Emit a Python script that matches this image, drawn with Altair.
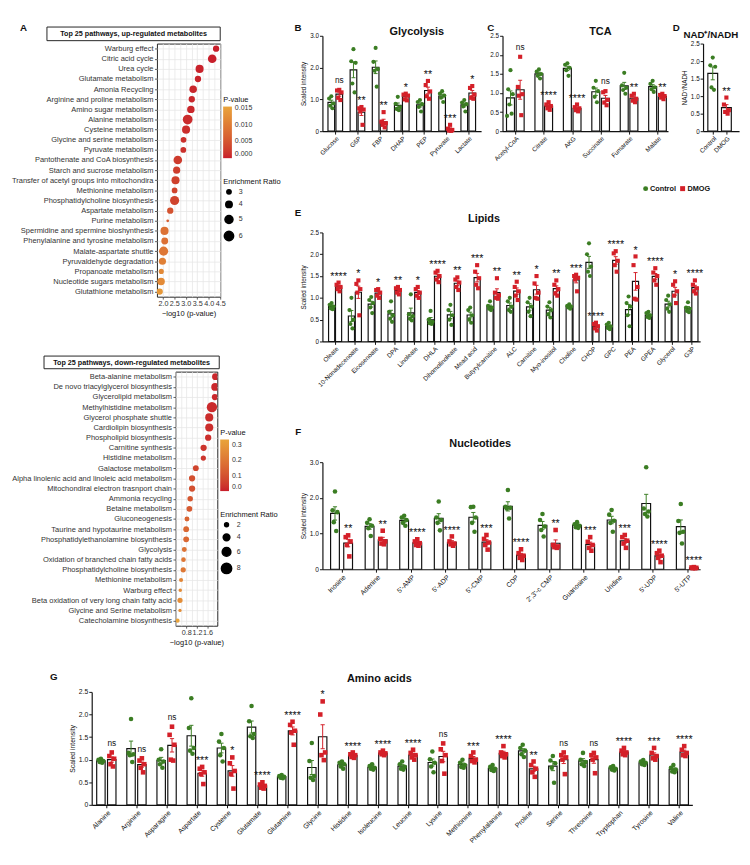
import json
import altair as alt
import pandas as pd

FONT = "Liberation Sans"
GREEN = "#3B7D23"
RED = "#D42029"
GROUPS = ["Control", "DMOG"]
P_LOW = "#C81E2B"
P_HIGH = "#E9A43B"
ONE = pd.DataFrame({"z": [0]})

# ---------------- A: enrichment of up-regulated metabolites ----------------
up_pathways = ["Warburg effect", "Citric acid cycle", "Urea cycle", "Glutamate metabolism",
               "Amonia Recycling", "Arginine and proline metabolism", "Amino sugar metabolism",
               "Alanine metabolism", "Cysteine metabolism", "Glycine and serine metabolism",
               "Pyruvate metabolism", "Pantothenate and CoA biosynthesis", "Starch and sucrose metabolism",
               "Transfer of acetyl groups into mitochondira", "Methionine metabolism",
               "Phosphatidylcholine biosynthesis", "Aspartate metabolism", "Purine metabolism",
               "Spermidine and spermine bioshynthesis", "Phenylalanine and tyrosine metabolism",
               "Malate-aspartate shuttle", "Pyruvaldehyde degradation", "Propanoate metabolism",
               "Nucleotide sugars metabolism", "Glutathione metabolism"]
up_logp = [4.32, 4.15, 3.60, 3.53, 3.32, 3.26, 3.22, 3.08, 3.01, 2.90, 2.89, 2.65, 2.60,
           2.55, 2.51, 2.51, 2.32, 2.21, 2.07, 2.08, 2.03, 1.98, 1.93, 1.92, 1.86]
up_ratio = [3.9, 5.4, 5.0, 3.9, 4.6, 3.9, 4.6, 6.3, 5.0, 3.6, 3.6, 5.4, 4.4,
            5.0, 3.6, 5.8, 3.9, 2.5, 5.0, 4.2, 5.8, 4.4, 3.3, 4.6, 3.9]

# ---------------- A: enrichment of down-regulated metabolites ----------------
down_pathways = ["Beta-alanine metabolism", "De novo triacylglycerol biosynthesis", "Glycerolipid metabolism",
                 "Methylhistidine metabolism", "Glycerol phosphate shuttle", "Cardiolipin biosynthesis",
                 "Phospholipid biosynthesis", "Carnitine synthesis", "Histidine metabolism",
                 "Galactose metabolism", "Alpha linolenic acid and linoleic acid metabolism",
                 "Mitochondiral electron trasnport chain", "Ammonia recycling", "Betaine metabolism",
                 "Gluconeogenesis", "Taurine and hypotaurine metabolism",
                 "Phosphatidylethanolamine biosynthesis", "Glycolysis",
                 "Oxidation of branched chain fatty acids", "Phosphatidylcholine biosynthesis",
                 "Methionine metabolism", "Warburg effect", "Beta oxidation of very long chain fatty acid",
                 "Glycine and Serine metabolism", "Catecholamine biosynthesis"]
down_logp = [1.89, 1.88, 1.87, 1.76, 1.66, 1.66, 1.62, 1.45, 1.44, 1.16, 1.02, 1.02, 0.95,
             0.92, 0.83, 0.80, 0.80, 0.73, 0.70, 0.69, 0.61, 0.58, 0.57, 0.57, 0.48]
down_ratio = [4.0, 5.0, 3.5, 8.0, 5.3, 5.3, 3.6, 3.6, 2.8, 3.2, 3.6, 3.6, 3.0,
              3.2, 2.6, 3.2, 3.2, 2.6, 2.4, 2.8, 2.1, 1.8, 2.8, 1.7, 2.1]

# ---------------- B: Glycolysis ----------------
gly_cats = ["Glucose", "G6P", "FBP", "DHAP", "PEP", "Pyruvate", "Lactate"]
gly_ctrl = [[1.1, 1.03, 0.87, 0.8, 0.72], [2.58, 2.2, 2.15, 1.5, 1.22], [2.62, 2.18, 1.95, 1.9, 1.4],
            [1.08, 0.86, 0.76, 0.7, 0.66], [0.98, 0.92, 0.85, 0.76, 0.62], [1.26, 1.18, 1.12, 1.05, 0.92],
            [0.98, 0.9, 0.85, 0.78, 0.62]]
gly_dmog = [[1.3, 1.28, 1.22, 1.05, 0.98], [0.76, 0.72, 0.68, 0.62, 0.2], [0.6, 0.3, 0.25, 0.2, 0.12],
            [1.18, 1.15, 1.12, 1.0, 0.97], [1.58, 1.45, 1.25, 1.1, 1.02], [0.2, 0.08, 0.04, 0.02, 0.01],
            [1.42, 1.36, 1.15, 1.05, 1.02]]
gly_sig = ["ns", "**", "**", "*", "**", "***", "*"]

# ---------------- C: TCA ----------------
tca_cats = ["Acetyl-CoA", "Citrate", "AKG", "Succinate", "Fumarate", "Malate"]
tca_ctrl = [[1.6, 1.1, 0.97, 0.7, 0.46, 0.4], [1.62, 1.56, 1.5, 1.45, 1.38], [1.78, 1.74, 1.66, 1.6, 1.45],
            [1.32, 1.14, 1.05, 0.9, 0.76], [1.53, 1.2, 1.14, 1.08, 0.98], [1.32, 1.24, 1.15, 1.1, 1.03]]
tca_dmog = [[1.95, 1.16, 0.97, 0.93, 0.42], [0.76, 0.7, 0.66, 0.6, 0.56], [0.7, 0.63, 0.6, 0.55, 0.52],
            [1.05, 1.02, 0.82, 0.75, 0.68], [0.98, 0.93, 0.85, 0.8, 0.76], [0.98, 0.95, 0.92, 0.88, 0.84]]
tca_sig = ["ns", "****", "****", "ns", "**", "**"]

# ---------------- D: NAD+/NADH ----------------
nad_cats = ["Control", "DMOG"]
nad_ctrl = [[2.1, 1.88, 1.84, 1.25, 1.18]]
nad_dmog = [[0.96, 0.76, 0.6, 0.55, 0.5]]
nad_sig = ["**"]

# ---------------- E: Lipids ----------------
lip_cats = ["Oleate", "10-Nonadecenoate", "Eicosenoate", "DPA", "Linoleate", "DHLA", "Dihomolinoleate",
            "Mead acid", "Butyrylcarnitine", "ALC", "Carnitine", "Myo-inositol", "Choline", "CHOP", "GPC",
            "PEA", "GPEA", "Glycerol", "G3P"]
lip_ctrl = [[0.88, 0.84, 0.8, 0.76, 0.74], [1.0, 0.72, 0.5, 0.4, 0.3], [1.02, 0.95, 0.88, 0.78, 0.65],
            [0.92, 0.68, 0.6, 0.52, 0.45], [1.08, 0.62, 0.58, 0.52, 0.48], [0.7, 0.5, 0.45, 0.42, 0.4],
            [0.84, 0.72, 0.6, 0.5, 0.38], [0.78, 0.72, 0.6, 0.5, 0.43], [0.92, 0.82, 0.78, 0.75, 0.72],
            [1.0, 0.92, 0.8, 0.72, 0.68], [1.0, 0.9, 0.8, 0.68, 0.58], [0.9, 0.8, 0.72, 0.62, 0.55],
            [0.85, 0.82, 0.8, 0.78, 0.75], [2.25, 2.0, 1.72, 1.6, 1.5], [0.43, 0.39, 0.35, 0.31, 0.28],
            [1.03, 0.88, 0.8, 0.6, 0.35], [0.68, 0.65, 0.6, 0.56, 0.54], [1.05, 0.95, 0.85, 0.75, 0.68],
            [0.9, 0.78, 0.75, 0.7, 0.67]]
lip_dmog = [[1.35, 1.3, 1.25, 1.2, 1.15], [1.4, 1.32, 1.2, 1.12, 0.6], [1.2, 1.18, 1.12, 1.05, 1.0],
            [1.25, 1.22, 1.18, 1.12, 1.08], [1.25, 1.2, 1.12, 1.05, 1.0], [1.62, 1.58, 1.5, 1.42, 1.36],
            [1.47, 1.42, 1.35, 1.25, 1.18], [1.75, 1.6, 1.45, 1.3, 1.22], [1.45, 1.12, 1.06, 1.0, 0.98],
            [1.37, 1.25, 1.15, 1.05, 0.95], [1.5, 1.33, 1.12, 1.0, 0.98], [1.4, 1.3, 1.2, 1.1, 1.05],
            [1.53, 1.5, 1.46, 1.42, 1.15], [0.43, 0.4, 0.35, 0.3, 0.25], [2.07, 2.02, 1.85, 1.75, 1.6],
            [1.95, 1.75, 1.25, 0.98, 0.96], [1.68, 1.58, 1.5, 1.4, 1.3], [1.38, 1.3, 1.15, 1.05, 0.88],
            [1.4, 1.3, 1.22, 1.15, 1.1]]
lip_sig = ["****", "*", "*", "**", "*", "****", "**", "***", "**", "**", "*", "**", "***", "****",
           "****", "*", "****", "*", "****"]

# ---------------- F: Nucleotides ----------------
nuc_cats = ["Inosine", "Adenine", "5'-AMP", "5'-ADP", "5'-CMP", "CDP", "2',3'-c CMP", "Guanosine",
            "Uridine", "5'-UDP", "5'-UTP"]
nuc_ctrl = [[2.18, 1.65, 1.6, 1.32, 1.07], [1.4, 1.3, 1.22, 1.15, 0.93], [1.5, 1.45, 1.38, 1.3, 1.22],
            [1.9, 1.45, 1.38, 1.3, 1.09], [1.75, 1.74, 1.45, 1.3, 1.05], [2.22, 1.75, 1.72, 1.7, 1.42],
            [1.55, 1.38, 1.2, 1.1, 0.92], [1.32, 1.26, 1.22, 1.18, 1.16], [1.66, 1.53, 1.36, 1.3, 1.05],
            [2.86, 1.7, 1.62, 1.55, 1.48], [1.83, 1.35, 1.05, 1.02, 0.72]]
nuc_dmog = [[0.95, 0.9, 0.78, 0.68, 0.36], [1.08, 0.85, 0.78, 0.72, 0.7], [0.84, 0.78, 0.73, 0.68, 0.66],
            [0.92, 0.78, 0.72, 0.7, 0.66], [0.96, 0.85, 0.75, 0.68, 0.55], [0.56, 0.45, 0.38, 0.32, 0.26],
            [1.1, 0.68, 0.64, 0.62, 0.6], [0.9, 0.77, 0.68, 0.6, 0.52], [0.96, 0.9, 0.8, 0.72, 0.6],
            [0.52, 0.45, 0.38, 0.32, 0.2], [0.06, 0.05, 0.04, 0.03, 0.03]]
nuc_sig = ["**", "**", "****", "****", "***", "****", "**", "***", "***", "****", "****"]

# ---------------- G: Amino acids ----------------
aa_cats = ["Alanine", "Arginine", "Asparagine", "Aspartate", "Cysteine", "Glutamate", "Glutamine",
           "Glycine", "Histidine", "Isoleucine", "Leucine", "Lysine", "Methionine", "Phenylalanine",
           "Proline", "Serine", "Threonine", "Tryptophan", "Tyrosine", "Valine"]
aa_ctrl = [[1.02, 1.0, 0.97, 0.95, 0.93], [1.9, 1.15, 1.12, 1.1, 0.95], [1.23, 1.0, 0.96, 0.9, 0.82],
           [2.36, 1.7, 1.26, 1.2, 1.13], [1.57, 1.4, 1.26, 1.1, 0.96], [2.19, 1.85, 1.57, 1.52, 1.48],
           [0.66, 0.64, 0.62, 0.6, 0.59], [1.37, 0.97, 0.64, 0.6, 0.55], [0.96, 0.93, 0.9, 0.85, 0.8],
           [0.9, 0.86, 0.82, 0.8, 0.78], [0.96, 0.9, 0.84, 0.8, 0.78], [1.18, 1.01, 0.93, 0.85, 0.72],
           [1.0, 0.93, 0.88, 0.84, 0.82], [0.88, 0.84, 0.8, 0.77, 0.75], [1.33, 1.26, 1.2, 1.12, 1.06],
           [1.08, 0.98, 0.92, 0.82, 0.49], [1.15, 1.0, 0.95, 0.9, 0.86], [0.86, 0.83, 0.8, 0.78, 0.76],
           [0.99, 0.96, 0.93, 0.9, 0.88], [0.88, 0.82, 0.78, 0.74, 0.72]]
aa_dmog = [[1.16, 1.08, 1.02, 0.9, 0.85], [1.03, 0.98, 0.9, 0.82, 0.72], [1.73, 1.55, 1.33, 1.0, 0.98],
           [0.84, 0.8, 0.72, 0.68, 0.46], [1.05, 0.92, 0.75, 0.68, 0.36], [0.5, 0.45, 0.42, 0.38, 0.36],
           [1.84, 1.77, 1.64, 1.6, 1.33], [2.29, 2.0, 1.16, 1.1, 0.99], [1.16, 1.12, 1.1, 1.06, 1.04],
           [1.2, 1.16, 1.14, 1.12, 1.1], [1.22, 1.15, 1.1, 1.05, 1.0], [1.36, 1.23, 1.1, 0.97, 0.69],
           [1.16, 1.08, 1.0, 0.97, 0.94], [1.3, 1.16, 1.12, 1.08, 1.05], [0.96, 0.88, 0.8, 0.72, 0.62],
           [1.16, 1.1, 1.05, 1.0, 0.68], [1.15, 1.1, 1.05, 1.0, 0.7], [1.26, 1.2, 1.16, 1.12, 1.1],
           [1.26, 1.15, 1.08, 1.03, 1.0], [1.3, 1.22, 1.15, 1.1, 1.08]]
aa_sig = ["ns", "ns", "ns", "***", "*", "****", "****", "*", "****", "****", "****", "ns", "***",
          "****", "**", "ns", "ns", "****", "***", "****"]


# ---------------- helpers ----------------
def txt(text, x, y, size, weight="bold", align="center", baseline="middle", color="#111"):
    return alt.Chart(ONE).mark_text(text=text, font=FONT, fontSize=size, fontWeight=weight,
                                    align=align, baseline=baseline, color=color).encode(
        x=alt.value(x), y=alt.value(y))


def cell(x1, y1, x2, y2):
    return alt.Chart(ONE).mark_rect(opacity=0).encode(
        x=alt.value(x1), x2=alt.value(x2), y=alt.value(y1), y2=alt.value(y2))


def sp():
    return cell(0, 0, 1, 1).properties(width=1, height=1)


def dotplot(names, logp, ratio, box_title, xdom, grid_vals, lab_vals, pdom, pvals, pfmt,
            sdom, srange, svals, w, h, box, leg_x, leg_yc, leg_ys, cellbox, letter=None):
    df = pd.DataFrame({"pathway": names, "logp": logp, "ratio": ratio})
    base = alt.Chart(df).transform_calculate(pval="pow(10, -datum.logp)")
    xs = alt.Scale(domain=xdom, nice=False, zero=False)
    yax = alt.Axis(title=None, grid=True, gridColor="#E6E6E6", gridWidth=0.8, domain=False,
                   tickSize=2.5, tickColor="#333", tickWidth=0.8, labelFontSize=7.7,
                   labelColor="#333", labelPadding=1.5, labelLimit=0)
    y = alt.Y("pathway:N", sort=names, axis=yax)
    grid = base.mark_point(opacity=0).encode(
        x=alt.X("logp:Q", scale=xs,
                axis=alt.Axis(orient="bottom", values=grid_vals, labels=False, ticks=False,
                              domain=False, title=None, grid=True, gridColor="#E6E6E6",
                              gridWidth=0.8)),
        y=y)
    pts = base.mark_circle(opacity=1, clip=True).encode(
        x=alt.X("logp:Q", scale=xs,
                axis=alt.Axis(orient="bottom", values=lab_vals, format=".1f", grid=False,
                              domain=False, tickSize=2.5, tickColor="#333", tickWidth=0.8,
                              labelFontSize=7.4, labelColor="#333", labelPadding=1,
                              labelOverlap=False, labelFlush=False, title="−log10 (p-value)",
                              titleFontSize=7.7, titleFontWeight="normal", titleColor="#111",
                              titlePadding=2)),
        y=y,
        color=alt.Color("pval:Q",
                        scale=alt.Scale(domain=pdom, range=[P_LOW, P_HIGH], interpolate="lab"),
                        legend=alt.Legend(title="P-value", orient="none", legendX=leg_x,
                                          legendY=leg_yc, direction="vertical", values=pvals,
                                          format=pfmt, gradientLength=53, gradientThickness=9,
                                          titleFontSize=7.7, titleFontWeight="normal",
                                          titleColor="#111", labelFontSize=7.2, labelColor="#333",
                                          titlePadding=3, labelOffset=3)),
        size=alt.Size("ratio:Q", scale=alt.Scale(domain=sdom, range=srange),
                      legend=alt.Legend(title="Enrichment Ratio", orient="none", legendX=leg_x,
                                        legendY=leg_ys, values=svals, symbolFillColor="black",
                                        symbolStrokeColor="black", symbolType="circle",
                                        titleFontSize=7.7, titleFontWeight="normal",
                                        titleColor="#111", labelFontSize=7.2, labelColor="#333",
                                        rowPadding=1, labelOffset=4, titlePadding=3)),
    )
    bx1, by1, bx2, by2 = box
    boxrect = alt.Chart(ONE).mark_rect(fill="white", stroke="#222", strokeWidth=1).encode(
        x=alt.value(bx1), x2=alt.value(bx2), y=alt.value(by1), y2=alt.value(by2))
    boxtext = txt(box_title, (bx1 + bx2) / 2, (by1 + by2) / 2 + 0.5, 7.4)
    layers = [cell(*cellbox), grid, pts, boxrect, boxtext]
    if letter:
        layers.append(txt(letter[0], letter[1], letter[2], 10))
    return alt.layer(*layers).resolve_axis(x="independent").properties(
        width=w, height=h, view=alt.ViewBackground(stroke="#222", strokeWidth=1))


def bar_panel(cats, ctrl, dmog, sig, xdom, ydom, yvals, w, h, off, hw, cap, jit, psize,
              xfs, yfs, ytitle, title, tx, ty, tfs, letter, lx, ly, cellbox, yrange=None,
              paired=True, extra=None):
    rows = []
    for i in range(len(ctrl)):
        for k, v in enumerate(ctrl[i]):
            rows.append({"i": i, "grp": "Control", "k": k, "v": v})
        for k, v in enumerate(dmog[i]):
            rows.append({"i": i, "grp": "DMOG", "k": k, "v": v})
    df = pd.DataFrame(rows)
    if paired:
        xc_expr = f"datum.i + (datum.grp == 'Control' ? {-off} : {off})"
        sx_expr = f"datum.i + {off}"
    else:
        xc_expr = "datum.grp == 'Control' ? 0 : 1"
        sx_expr = "1"
    xs = alt.Scale(domain=xdom, nice=False, zero=False)
    if yrange:
        ys = alt.Scale(domain=ydom, nice=False, range=yrange)
    else:
        ys = alt.Scale(domain=ydom, nice=False)
    xax = alt.Axis(values=list(range(len(cats))), labelExpr=json.dumps(cats) + "[datum.value]",
                   labelAngle=-45, labelAlign="right", labelBaseline="top", labelFontSize=xfs,
                   labelColor="#111", labelPadding=1, labelOverlap=False, labelFlush=False,
                   labelBound=False, tickSize=3, tickColor="#111", tickWidth=1,
                   domainColor="#111", domainWidth=1.2, grid=False, title=None)
    yax = alt.Axis(values=yvals, labelExpr="datum.value == 0 ? '0' : format(datum.value, '.1f')",
                   labelFontSize=yfs, labelColor="#111", labelPadding=1, tickSize=3,
                   tickColor="#111", tickWidth=1, domainColor="#111", domainWidth=1.2, grid=False,
                   title=ytitle, titleFontSize=yfs, titleFontWeight="normal", titleColor="#111",
                   titlePadding=3)

    def X(f):
        return alt.X(f, scale=xs, axis=xax)

    def Y(f):
        return alt.Y(f, scale=ys, axis=yax)

    stroke = alt.Stroke("grp:N", scale=alt.Scale(domain=GROUPS, range=[GREEN, RED]), legend=None)
    base = alt.Chart(df).transform_calculate(xc=xc_expr)
    agg = base.transform_aggregate(m="mean(v)", se="stderr(v)", groupby=["i", "grp", "xc"]).transform_calculate(
        x1=f"datum.xc - {hw}", x2=f"datum.xc + {hw}", lo="datum.m - datum.se",
        hi="datum.m + datum.se", c1=f"datum.xc - {cap}", c2=f"datum.xc + {cap}")
    bars = agg.mark_rect(fill="white", stroke="#111", strokeWidth=1.2).encode(
        x=X("x1:Q"), x2="x2:Q", y=Y("m:Q"), y2=alt.Y2Datum(0))
    err = agg.mark_rule(strokeWidth=1).encode(x=X("xc:Q"), y=Y("lo:Q"), y2="hi:Q", stroke=stroke)
    cap_hi = agg.mark_rule(strokeWidth=1).encode(x=X("c1:Q"), x2="c2:Q", y=Y("hi:Q"), stroke=stroke)
    cap_lo = agg.mark_rule(strokeWidth=1).encode(x=X("c1:Q"), x2="c2:Q", y=Y("lo:Q"), stroke=stroke)
    pts = base.transform_calculate(
        jx=f"datum.xc + {jit} * [0, -1, 1, -0.5, 0.5, -1.5, 1.5][datum.k]"
    ).mark_point(filled=True, opacity=1, size=psize, strokeWidth=0).encode(
        x=X("jx:Q"), y=Y("v:Q"),
        color=alt.Color("grp:N", scale=alt.Scale(domain=GROUPS, range=[GREEN, RED]), legend=None),
        shape=alt.Shape("grp:N", scale=alt.Scale(domain=GROUPS, range=["circle", "square"]),
                        legend=None))
    sdf = pd.DataFrame({"i": list(range(len(sig))), "lab": sig, "ytop": [max(d) for d in dmog]})
    sbase = alt.Chart(sdf).transform_calculate(sx=sx_expr)
    stars = sbase.transform_filter("datum.lab != 'ns'").mark_text(
        font=FONT, fontSize=11, baseline="alphabetic", dy=-3, color="#111").encode(
        x=X("sx:Q"), y=Y("ytop:Q"), text="lab:N")
    ns = sbase.transform_filter("datum.lab == 'ns'").mark_text(
        font=FONT, fontSize=8.5, baseline="alphabetic", dy=-7, color="#111").encode(
        x=X("sx:Q"), y=Y("ytop:Q"), text="lab:N")
    layers = [cell(*cellbox), bars, err, cap_hi, cap_lo, pts, stars, ns,
              txt(title, tx, ty, tfs, baseline="alphabetic"), txt(letter, lx, ly, 10)]
    if extra:
        layers += extra
    return alt.layer(*layers).properties(width=w, height=h)


def group_key(x, y):
    # Control / DMOG key, same symbols as in the panels
    return [
        alt.Chart(ONE).mark_point(filled=True, shape="circle", size=26, color=GREEN, opacity=1,
                                  strokeWidth=0).encode(x=alt.value(x), y=alt.value(y)),
        txt("Control", x + 4.5, y, 7.5, align="left"),
        alt.Chart(ONE).mark_point(filled=True, shape="square", size=26, color=RED, opacity=1,
                                  strokeWidth=0).encode(x=alt.value(x + 38), y=alt.value(y)),
        txt("DMOG", x + 43, y, 7.5, align="left"),
    ]


def hc(*cs):
    return alt.hconcat(*cs, spacing=0).resolve_scale(
        color="independent", shape="independent", size="independent", stroke="independent")


def vc(*cs):
    return alt.vconcat(*cs, spacing=0).resolve_scale(
        color="independent", shape="independent", size="independent", stroke="independent")


# ---------------- panels ----------------
a_up = dotplot(up_pathways, up_logp, up_ratio, "Top 25 pathways, up-regulated metabolites",
               [1.74, 4.5], [2.0, 2.25, 2.5, 2.75, 3.0, 3.25, 3.5, 3.75, 4.0, 4.25, 4.5],
               [2.0, 2.5, 3.0, 3.5, 4.0, 4.5], [0, 0.0155], [0, 0.005, 0.01, 0.015], ".3f",
               [2.5, 6.3], [8, 100], [3, 4, 5, 6], 65, 260, (-113, -17, 65, -3),
               68, 54, 138, (-141, -21, 131, 303), letter=("A", -137, -16))

a_down = dotplot(down_pathways, down_logp, down_ratio, "Top 25 pathways, down-regulated metabolites",
                 [0.4, 1.96], [0.4, 0.6, 0.8, 1.0, 1.2, 1.4, 1.6, 1.8], [0.8, 1.2, 1.6],
                 [0, 0.335], [0, 0.1, 0.2, 0.3], ".1f", [1.5, 8.5], [8, 120], [2, 4, 6, 8],
                 43, 261, (-135, -16, 45, -3), 46, 59, 143, (-163, -32, 109, 293))

b = bar_panel(gly_cats, gly_ctrl, gly_dmog, gly_sig, [-0.58, 6.58], [0, 3], [0, 1, 2, 3],
              163, 98, 0.18, 0.15, 0.09, 0.1, 18, 6.5, 6.5, "Scaled intensity",
              "Glycolysis", 97, -1, 11.2, "B", -25, -8, (-37, -13, 165, 149))

c = bar_panel(tca_cats, tca_ctrl, tca_dmog, tca_sig, [-0.45, 5.37], [0, 2.5],
              [0, 0.5, 1.0, 1.5, 2.0, 2.5], 170, 98, 0.17, 0.14, 0.07, 0.08, 18, 6.5, 6.5, None,
              "TCA", 100.5, -1, 11.2, "C", -12, -8, (-18, -13, 172, 149))

d = bar_panel(nad_cats, nad_ctrl, nad_dmog, nad_sig, [-0.71, 1.93], [0, 2.5],
              [0, 0.5, 1.0, 1.5, 2.0, 2.5], 37, 98, 0, 0.36, 0.15, 0.18, 18, 6.5, 6.5,
              "NAD⁺/NADH", "NAD⁺/NADH", 8, 2, 10, "D", -27.5, -8, (-32, -13, 39, 149),
              yrange=[98, 8], paired=False)

e = bar_panel(lip_cats, lip_ctrl, lip_dmog, lip_sig, [-0.64, 18.44], [0, 2.5],
              [0, 0.5, 1.0, 1.5, 2.0, 2.5], 388, 112, 0.175, 0.155, 0.1, 0.1, 18, 6.5, 6.5,
              "Scaled intensity", "Lipids", 166, -11, 11.2, "E", -25, -20, (-37, -51, 425, 186),
              extra=group_key(332, -45))

f = bar_panel(nuc_cats, nuc_ctrl, nuc_dmog, nuc_sig, [-0.553, 10.37], [0, 3], [0, 1, 2, 3],
              388, 110, 0.19, 0.127, 0.06, 0.07, 22, 7, 6.8, "Scaled intensity",
              "Nucleotides", 162, -16, 11.2, "F", -25, -31, (-37, -48, 425, 202))

g = bar_panel(aa_cats, aa_ctrl, aa_dmog, aa_sig, [-0.485, 19.45], [0, 2.5],
              [0, 0.5, 1.0, 1.5, 2.0, 2.5], 617, 116, 0.18, 0.14, 0.07, 0.08, 22, 7, 7,
              "Scaled intensity", "Amino acids", 295.5, -10, 11.2, "G", -39, -15,
              (-82, -32, 652, 150))

left_col = vc(sp(), hc(sp(), a_up), hc(sp(), a_down))
right_col = vc(sp(), hc(b, c, d), e, f)
top_row = hc(left_col, right_col)
chart = vc(top_row, hc(sp(), g)).properties(
    padding=0, background="white").configure(font=FONT).configure_view(stroke="transparent")

chart.save("out.html", embed_options={"renderer": "svg", "actions": False})
